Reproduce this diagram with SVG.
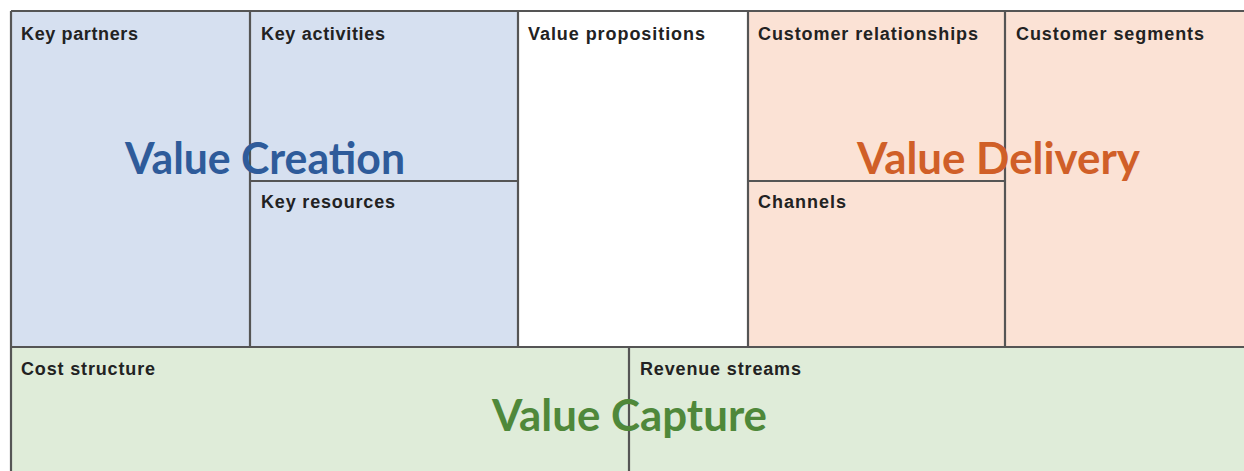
<svg xmlns="http://www.w3.org/2000/svg" width="1244" height="471" viewBox="0 0 1244 471">
  <style>
    .blue { fill: #d6e0f0; }
    .peach { fill: #fbe2d5; }
    .green { fill: #dfecd9; }
    .white { fill: #ffffff; }
    .grid { stroke: #555555; stroke-width: 2.2; fill: none; }
    .label { font-family: "Liberation Sans", Arial, sans-serif; font-weight: bold; font-size: 18px; fill: #222222; }
    .theme { font-family: Lato, "Open Sans", sans-serif; font-weight: bold; font-size: 44px; }
  </style>

  <rect width="1244" height="471" fill="#ffffff"/>

  <!-- canvas blocks -->
  <g id="key-partners">
    <rect class="blue" x="11" y="11" width="239" height="336"/>
    <text class="label" x="21" y="40" textLength="117" lengthAdjust="spacing">Key partners</text>
  </g>
  <g id="key-activities">
    <rect class="blue" x="250" y="11" width="268" height="170"/>
    <text class="label" x="261" y="40" textLength="124" lengthAdjust="spacing">Key activities</text>
  </g>
  <g id="key-resources">
    <rect class="blue" x="250" y="181" width="268" height="166"/>
    <text class="label" x="261" y="208" textLength="134" lengthAdjust="spacing">Key resources</text>
  </g>
  <g id="value-propositions">
    <rect class="white" x="518" y="11" width="230" height="336"/>
    <text class="label" x="528" y="40" textLength="177" lengthAdjust="spacing">Value propositions</text>
  </g>
  <g id="customer-relationships">
    <rect class="peach" x="748" y="11" width="257" height="170"/>
    <text class="label" x="758" y="40" textLength="220" lengthAdjust="spacing">Customer relationships</text>
  </g>
  <g id="channels">
    <rect class="peach" x="748" y="181" width="257" height="166"/>
    <text class="label" x="758" y="208" textLength="88" lengthAdjust="spacing">Channels</text>
  </g>
  <g id="customer-segments">
    <rect class="peach" x="1005" y="11" width="239" height="336"/>
    <text class="label" x="1016" y="40" textLength="188" lengthAdjust="spacing">Customer segments</text>
  </g>
  <g id="cost-structure">
    <rect class="green" x="11" y="347" width="618" height="124"/>
    <text class="label" x="21" y="375" textLength="134" lengthAdjust="spacing">Cost structure</text>
  </g>
  <g id="revenue-streams">
    <rect class="green" x="629" y="347" width="615" height="124"/>
    <text class="label" x="640" y="375" textLength="161" lengthAdjust="spacing">Revenue streams</text>
  </g>

  <!-- dividing lines -->
  <g id="connectors">
    <path class="grid" d="M11 11 H1244 M11 11 V471 M11 347 H1244 M250 11 V347 M518 11 V347 M748 11 V347 M1005 11 V347 M629 347 V471 M250 181 H518 M748 181 H1005"/>
  </g>

  <!-- area headings -->
  <g id="headings">
    <text class="theme" x="125" y="174" fill="#2e5b9a" textLength="280" lengthAdjust="spacingAndGlyphs">Value Creation</text>
    <text class="theme" x="857" y="174" fill="#d05f28" textLength="283" lengthAdjust="spacingAndGlyphs">Value Delivery</text>
    <text class="theme" x="492" y="431" fill="#4f883a" textLength="275" lengthAdjust="spacingAndGlyphs">Value Capture</text>
  </g>
</svg>
